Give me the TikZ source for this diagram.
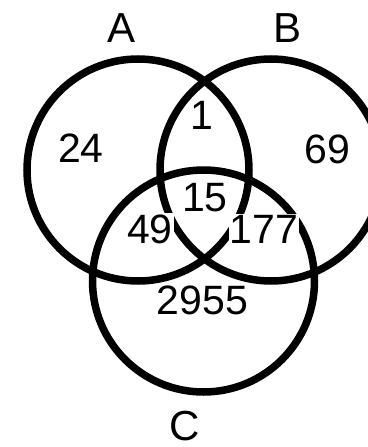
\documentclass[tikz,border=0pt]{standalone}
\usepackage{fontspec}
\setmainfont{Liberation Sans}
\usetikzlibrary{positioning}

\begin{document}
\begin{tikzpicture}[
            x=1pt, y=-1pt,
            setcirc/.style={draw=black, line width=7.5pt, circle, minimum size=222pt, inner sep=0pt},
            setname/.style={font=\fontsize{42}{42}\selectfont, inner sep=0pt},
            count/.style={font=\fontsize{41}{41}\selectfont, inner sep=0pt},
            halo/.style={fill=white, inner sep=1pt}
        ]
        \useasboundingbox (0,0) rectangle (367,447);

        % Kreise
        \node[setcirc] (setA) at (138,170) {};
        \node[setcirc] (setB) at (271,170) {};
        \node[setcirc] (setC) at (203.5,281) {};

        % Namen
        \node[setname] (nameA) at (122,28) {A};
        \node[setname] (nameB) at (287.5,28) {B};
        \node[setname] (nameC) at (185,426) {C};

        % Zahlen
        \node[count] (onlyA) at (81,148) {24};
        \node[count] (onlyB) at (327.5,149) {69};
        \node[count] (onlyC) at (202.5,300) {2955};
        \node[count] (AB) at (202,115) {1};
        \node[count] (ABC) at (205,198) {15};
        \node[count, halo] (AC) at (150,229) {49};
        \node[count, halo] (BC) at (264,229) {177};

    \end{tikzpicture}
\end{document}
